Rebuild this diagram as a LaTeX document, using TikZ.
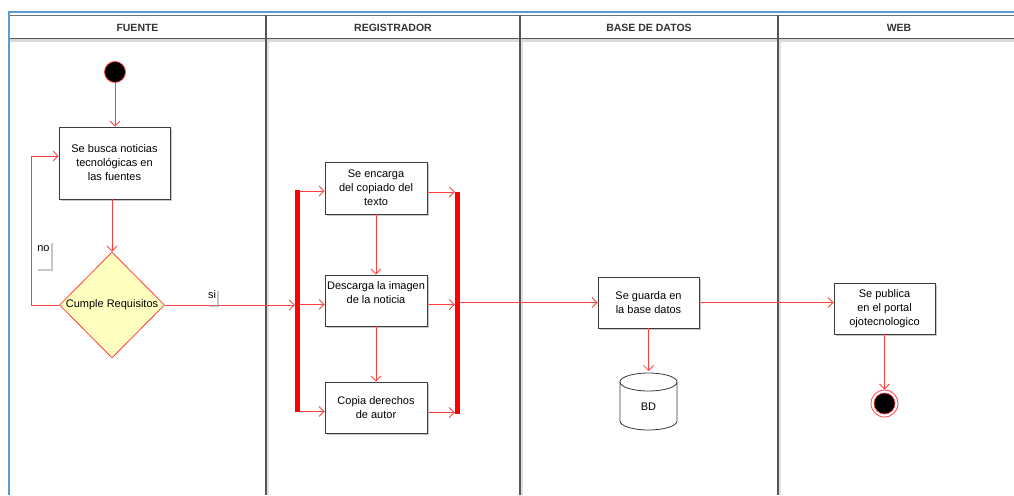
\documentclass[tikz,border=0pt]{standalone}
\usepackage{fontspec}
\setmainfont{Liberation Sans}
\usetikzlibrary{arrows.meta,shapes.geometric,shadows}
\definecolor{lnred}{RGB}{255,64,64}
\definecolor{barred}{RGB}{255,0,0}
\definecolor{edgegray}{RGB}{60,60,60}
\definecolor{lanegray}{RGB}{85,85,90}
\definecolor{frameblue}{RGB}{91,155,213}
\definecolor{decfill}{RGB}{255,255,192}
\begin{document}
\begin{tikzpicture}[x=1pt,y=-1pt,
  >={Straight Barb[length=5pt,width=10pt]},
  softshadow/.style={drop shadow={shadow xshift=2pt,shadow yshift=-2pt,fill=black!40,opacity=0.55}},
  stepbox/.style={draw=edgegray,fill=white,line width=0.8pt,align=center,inner sep=1pt,
    font=\fontsize{11}{14}\selectfont,softshadow},
  decision/.style={diamond,draw=lnred,fill=decfill,line width=0.8pt,inner sep=0pt,
    minimum width=105,minimum height=106,font=\fontsize{11}{14}\selectfont},
  forkbar/.style={fill=barred,draw=none,inner sep=0pt,minimum width=5,minimum height=222},
  flow/.style={draw=lnred,line width=0.8pt,->},
  lanehead/.style={font=\bfseries\fontsize{10.5}{12}\selectfont,text=black!80},
  lanesep/.style={draw=lanegray,line width=1.4pt},
  guardlbl/.style={fill=white,inner sep=1pt,font=\fontsize{11}{13}\selectfont,softshadow}]
\useasboundingbox (0,0) rectangle (1014,495);

% frame and swimlane headers
\draw[frameblue,line width=2pt] (8,12.5) -- (1014,12.5);
\draw[frameblue,line width=2pt] (9,12) -- (9,495);
\draw[black!55,line width=1pt] (10,15.5) -- (1014,15.5);
\draw[black!15,line width=3pt] (10,41) -- (1014,41);
\draw[lanegray,line width=1.4pt] (10,38.5) -- (1014,38.5);
\foreach \lx in {266,520,778}{
  \draw[black!12,line width=2pt] (\lx+2,40) -- (\lx+2,495);
  \draw[lanesep] (\lx,15) -- (\lx,495);
}
\node[lanehead] (hfuente) at (137.5,27.5) {FUENTE};
\node[lanehead] (hreg) at (393,27.5) {REGISTRADOR};
\node[lanehead] (hbd) at (649,27.5) {BASE DE DATOS};
\node[lanehead] (hweb) at (899,27.5) {WEB};

% FUENTE lane
\node[circle,fill=black,draw=lnred,line width=0.8pt,minimum size=21,inner sep=0pt] (start) at (115,72) {};
\node[stepbox,minimum width=111,minimum height=72] (busca) at (114.5,163)
  {Se busca noticias\\tecnológicas en\\las fuentes};
\node[decision] (cumple) at (112,305) {Cumple Requisitos};

\draw[flow] (start) -- (start |- busca.north);
\draw[flow] (cumple.north |- busca.south) -- (cumple.north);
\draw[flow] (cumple.west) -- ++(-28,0) |- ([yshift=7pt]busca.west);
\node[guardlbl,anchor=base,text height=9pt,text depth=17pt] (lblno) at (43.5,251) {no};

% REGISTRADOR lane: fork, three tasks, join
\node[forkbar] (forkL) at (297.5,301) {};
\node[forkbar] (forkR) at (457.5,303) {};
\node[stepbox,minimum width=102,minimum height=52] (copiado) at (376,188)
  {Se encarga\\del copiado del\\texto};
\node[stepbox,minimum width=102,minimum height=51] (imagen) at (376,300.5)
  {Descarga la imagen\\de la noticia\\[2pt]};
\node[stepbox,minimum width=102,minimum height=51] (derechos) at (376,407.5)
  {Copia derechos\\de autor};

\draw[flow] (cumple.east) -- (cumple.east -| forkL.west);
\node[guardlbl,anchor=base,text height=9pt,text depth=5pt] (lblsi) at (212,298.5) {si};

\draw[flow] ([yshift=-3pt]copiado.west -| forkL.east) -- ([yshift=-3pt]copiado.west);
\draw[flow] ([yshift=-4pt]imagen.west -| forkL.east) -- ([yshift=-4pt]imagen.west);
\draw[flow] ([yshift=-4pt]derechos.west -| forkL.east) -- ([yshift=-4pt]derechos.west);
\draw[flow] (copiado.south) -- (imagen.north);
\draw[flow] (imagen.south) -- (derechos.north);
\draw[flow] ([yshift=-4pt]copiado.east) -- ([yshift=-4pt]copiado.east -| forkR.west);
\draw[flow] ([yshift=-4pt]imagen.east) -- ([yshift=-4pt]imagen.east -| forkR.west);
\draw[flow] ([yshift=-5pt]derechos.east) -- ([yshift=-5pt]derechos.east -| forkR.west);

% BASE DE DATOS lane: task and database cylinder
\node[stepbox,minimum width=101,minimum height=51] (guarda) at (648.5,302.5)
  {Se guarda en\\la base datos};
\coordinate (bd) at (648.5,401.5);
\coordinate (bdnw) at (620,382);
\coordinate (bdsw) at (620,421);
\coordinate (bdne) at (677,382);
\begin{scope}[shift={(2pt,-2pt)}]
  \fill[black!40,opacity=0.55] (bdnw) -- (bdsw)
    arc[start angle=180,end angle=360,x radius=28.5pt,y radius=9pt]
    -- (bdne)
    arc[start angle=0,end angle=180,x radius=28.5pt,y radius=9pt] -- cycle;
\end{scope}
\draw[edgegray,line width=0.8pt,fill=white] (bdnw) -- (bdsw)
    arc[start angle=180,end angle=360,x radius=28.5pt,y radius=9pt]
    -- (bdne)
    arc[start angle=0,end angle=180,x radius=28.5pt,y radius=9pt] -- cycle;
\draw[edgegray,line width=0.8pt] (bdnw)
    arc[start angle=180,end angle=360,x radius=28.5pt,y radius=9pt];
\coordinate (bdtop) at (648.5,371);
\node[font=\fontsize{11}{13}\selectfont] (bdtext) at (648.5,407) {BD};

\draw[flow] (forkR.east |- guarda.west) -- (guarda.west);
\draw[flow] (guarda.south) -- (bdtop);

% WEB lane
\node[stepbox,minimum width=101,minimum height=51] (publica) at (884.5,308.5)
  {Se publica\\en el portal\\ojotecnologico};
\node[circle,draw=lnred,line width=0.8pt,fill=white,minimum size=27,inner sep=0pt] (fin) at (884.5,403.5) {};
\fill[black,draw=lnred,line width=0.6pt] (fin.center) circle (10.5pt);

\draw[flow] (guarda.east) -- (guarda.east -| publica.west);
\draw[flow] (publica.south) -- (fin.north);
\end{tikzpicture}
\end{document}
